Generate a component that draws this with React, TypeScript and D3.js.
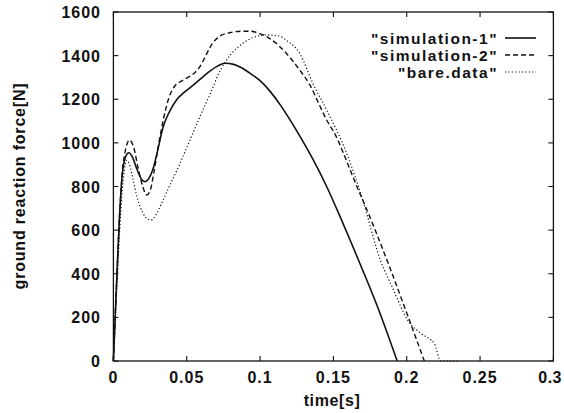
import React from "react";
import * as d3 from "d3";

const W = 564;
const H = 413;

// time [s]
const sim1T = [0, 0.002, 0.004, 0.006, 0.008, 0.0105, 0.013, 0.016, 0.019, 0.0215, 0.024, 0.027, 0.03, 0.034, 0.038, 0.043, 0.048, 0.054, 0.06, 0.066, 0.071, 0.076, 0.082, 0.088, 0.093, 0.1, 0.107, 0.114, 0.12, 0.125, 0.136, 0.1454, 0.155, 0.1626, 0.168, 0.18, 0.1935];
const sim1F = [0, 330, 640, 850, 930, 955, 935, 880, 835, 822, 835, 880, 960, 1075, 1140, 1197, 1230, 1262, 1297, 1330, 1352, 1365, 1360, 1342, 1320, 1285, 1235, 1172, 1110, 1055, 925, 800, 655, 535, 448, 250, 0];

const sim2T = [0, 0.002, 0.004, 0.006, 0.008, 0.011, 0.014, 0.017, 0.02, 0.0227, 0.025, 0.028, 0.031, 0.034, 0.038, 0.042, 0.047, 0.052, 0.056, 0.059, 0.063, 0.066, 0.0727, 0.08, 0.088, 0.093, 0.1, 0.1045, 0.108, 0.118, 0.127, 0.134, 0.141, 0.145, 0.152, 0.157, 0.167, 0.17, 0.1886, 0.2, 0.206, 0.212];
const sim2F = [0, 330, 640, 860, 960, 1013, 975, 880, 800, 761, 780, 880, 1000, 1105, 1210, 1262, 1285, 1305, 1325, 1350, 1400, 1440, 1490, 1506, 1512, 1512, 1500, 1487, 1472, 1410, 1334, 1265, 1166, 1110, 1028, 950, 784, 738, 426, 220, 110, 0];

const bareT = [0, 0.001, 0.003, 0.005, 0.007, 0.009, 0.011, 0.0135, 0.016, 0.02, 0.0235, 0.0256, 0.029, 0.033, 0.037, 0.045, 0.052, 0.059, 0.066, 0.0727, 0.08, 0.088, 0.095, 0.1045, 0.113, 0.118, 0.127, 0.136, 0.1454, 0.159, 0.17, 0.182, 0.19, 0.202, 0.21, 0.219, 0.223, 0.235];
const bareF = [0, 150, 430, 680, 850, 920, 900, 830, 753, 680, 650, 646, 670, 725, 784, 900, 1010, 1120, 1225, 1330, 1405, 1455, 1482, 1495, 1490, 1470, 1411, 1273, 1151, 953, 738, 463, 340, 174, 125, 78, 0, 0];

const xTicks = [0, 0.05, 0.1, 0.15, 0.2, 0.25, 0.3];
const xTickLabels = ["0", "0.05", "0.1", "0.15", "0.2", "0.25", "0.3"];
const yTicks = [0, 200, 400, 600, 800, 1000, 1200, 1400, 1600];

const seriesNames = ['"simulation-1"', '"simulation-2"', '"bare.data"'];

const FONT = "'Liberation Sans', Arial, Helvetica, sans-serif";

export default function App() {
  const x = d3.scaleLinear().domain([0, 0.3]).range([113.4, 553.4]);
  const y = d3.scaleLinear().domain([0, 1600]).range([361, 12]);

  const line = d3
    .line<[number, number]>()
    .x((d) => x(d[0]))
    .y((d) => y(d[1]))
    .curve(d3.curveMonotoneX);

  const series = [
    { name: seriesNames[0], pts: sim1T.map((t, i) => [t, sim1F[i]] as [number, number]), dash: "none", w: 1.6 },
    { name: seriesNames[1], pts: sim2T.map((t, i) => [t, sim2F[i]] as [number, number]), dash: "5,3", w: 1.4 },
    { name: seriesNames[2], pts: bareT.map((t, i) => [t, bareF[i]] as [number, number]), dash: "1.2,2.2", w: 1.2 },
  ];

  const [x0, x1] = x.range();
  const [yb, yt] = y.range();
  const tl = 5;
  const last = xTicks.length - 1;

  return (
    <svg
      width={W}
      height={H}
      style={{ position: "absolute", left: 0, top: 0, background: "#fff" }}
      fontFamily={FONT}
    >
      <rect x={0} y={0} width={W} height={H} fill="#fff" />
      {/* frame */}
      <rect x={x0} y={yt} width={x1 - x0} height={yb - yt} fill="none" stroke="#111" strokeWidth={1.3} />
      {/* ticks */}
      {xTicks.map((t, i) => (
        <g key={"xt" + i}>
          <line x1={x(t)} x2={x(t)} y1={yb} y2={yb - tl} stroke="#111" strokeWidth={1.1} />
          <line x1={x(t)} x2={x(t)} y1={yt} y2={yt + tl} stroke="#111" strokeWidth={1.1} />
          <text
            x={i === last ? W - 2 : x(t)}
            y={383}
            textAnchor={i === last ? "end" : "middle"}
            fontSize={16}
            fontWeight="bold"
            letterSpacing={i === last ? 0.5 : 1}
            fill="#111"
          >
            {xTickLabels[i]}
          </text>
        </g>
      ))}
      {yTicks.map((v, i) => (
        <g key={"yt" + i}>
          <line x1={x0} x2={x0 + tl} y1={y(v)} y2={y(v)} stroke="#111" strokeWidth={1.1} />
          <line x1={x1} x2={x1 - tl} y1={y(v)} y2={y(v)} stroke="#111" strokeWidth={1.1} />
          <text
            x={101}
            y={y(v) + 6}
            textAnchor="end"
            fontSize={16}
            fontWeight="bold"
            letterSpacing={1}
            fill="#111"
          >
            {String(v)}
          </text>
        </g>
      ))}
      {/* axis titles */}
      <text x={332} y={406} textAnchor="middle" fontSize={16} fontWeight="bold" letterSpacing={0.6} fill="#111">
        time[s]
      </text>
      <text
        transform={`translate(25,186) rotate(-90)`}
        textAnchor="middle"
        fontSize={16}
        fontWeight="bold"
        letterSpacing={0.8}
        fill="#111"
      >
        ground reaction force[N]
      </text>
      {/* curves */}
      {series.map((s, i) => (
        <path
          key={"s" + i}
          d={line(s.pts) || ""}
          fill="none"
          stroke="#111"
          strokeWidth={s.w}
          strokeDasharray={s.dash}
        />
      ))}
      {/* legend */}
      {series.map((s, i) => (
        <g key={"lg" + i}>
          <text
            x={498}
            y={38 + i * 17 + 5.5}
            textAnchor="end"
            fontSize={15.5}
            fontWeight="bold"
            letterSpacing={1.5}
            fill="#111"
          >
            {s.name}
          </text>
          <line
            x1={505}
            x2={536}
            y1={38 + i * 17}
            y2={38 + i * 17}
            stroke="#111"
            strokeWidth={s.w}
            strokeDasharray={s.dash}
          />
        </g>
      ))}
    </svg>
  );
}
